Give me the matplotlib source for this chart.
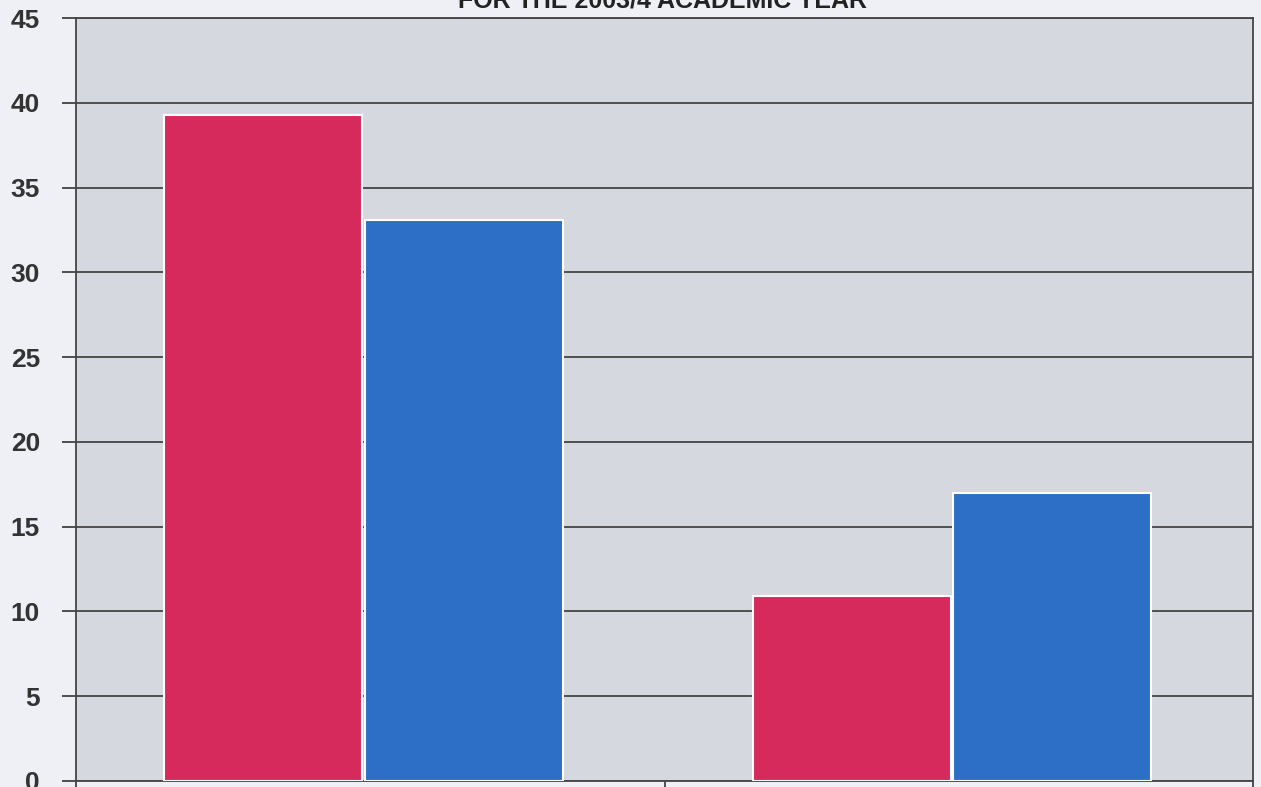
import matplotlib.pyplot as plt
import numpy as np

# values
groups = ['Group 1', 'Group 2']
red_values = [39.3, 10.9]
blue_values = [33.1, 17.0]
y_ticks = [0, 5, 10, 15, 20, 25, 30, 35, 40, 45]
title = 'FOR THE 2003/4 ACADEMIC YEAR'


def main():
    fig = plt.figure(figsize=(12.61, 7.87), dpi=100, facecolor='#eef0f6')
    ax = fig.add_axes([76 / 1261, 6 / 787, 1177 / 1261, 763 / 787])
    ax.set_facecolor('#d6d8df')

    x = np.arange(len(groups))
    width = 0.336
    ax.bar(x - 0.182, red_values, width, color='#d72a5c',
           edgecolor='white', linewidth=1.5, zorder=3)
    ax.bar(x + 0.159, blue_values, width, color='#2d6fc6',
           edgecolor='white', linewidth=1.5, zorder=3)

    ax.set_xlim(-0.5, len(groups) - 0.5)
    ax.set_ylim(0, 45)
    ax.set_yticks(y_ticks)
    ax.set_yticklabels([str(t) for t in y_ticks], fontsize=19,
                       fontweight='bold', color='#333333',
                       family='Liberation Sans')
    ax.yaxis.grid(True, color='#444444', linewidth=1.3, zorder=1)
    ax.set_axisbelow(True)

    # category separators on the x axis
    ax.set_xticks([-0.5, 0.5, 1.5])
    ax.set_xticklabels([])
    ax.tick_params(axis='x', length=10, width=1.2, color='#333333',
                   direction='out')
    ax.tick_params(axis='y', length=10, width=1.2, color='#333333',
                   pad=16)

    for side in ['left', 'right', 'top', 'bottom']:
        ax.spines[side].set_color('#444444')
        ax.spines[side].set_linewidth(1.3)

    # title mostly cut off at the top of the scan
    fig.text(0.525, 1.0 - 8 / 787, title, ha='center', va='baseline',
             fontsize=18, fontweight='bold', color='#222222',
             family='Liberation Sans')

    fig.savefig('out.png', dpi=100, facecolor=fig.get_facecolor())


if __name__ == '__main__':
    main()
